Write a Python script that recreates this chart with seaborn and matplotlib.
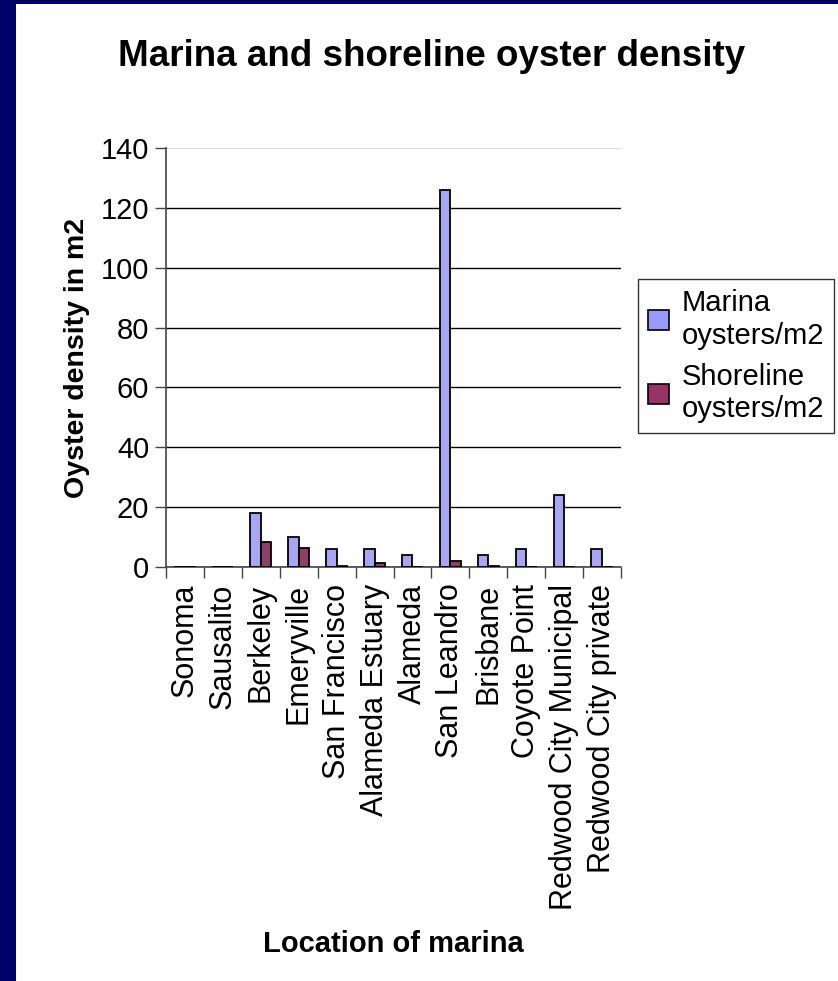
import numpy as np
import pandas as pd
import matplotlib
matplotlib.use("Agg")
import matplotlib.pyplot as plt
from matplotlib.patches import Rectangle, Patch
import seaborn as sns

# Oyster density (oysters per m2) by marina location
locations = [
    "Sonoma", "Sausalito", "Berkeley", "Emeryville", "San Francisco",
    "Alameda Estuary", "Alameda", "San Leandro", "Brisbane",
    "Coyote Point", "Redwood City Municipal", "Redwood City private",
]
marina_density = [0, 0, 18, 10, 6, 6, 4, 126, 4, 6, 24, 6]
shoreline_density = [0, 0, 8.5, 6.5, 0.5, 1.2, 0, 2, 0.4, 0, 0, 0]
series_names = ["Marina\noysters/m2", "Shoreline\noysters/m2"]
series_colors = ["#9999FF", "#993366"]
y_ticks = [0, 20, 40, 60, 80, 100, 120, 140]

df = pd.DataFrame({
    "location": locations * 2,
    "density": marina_density + shoreline_density,
    "series": [series_names[0]] * len(locations) + [series_names[1]] * len(locations),
})

sns.set_theme(style="white")
plt.rcParams["font.family"] = ["Liberation Sans", "DejaVu Sans"]
plt.rcParams["text.color"] = "black"
plt.rcParams["axes.labelcolor"] = "black"
plt.rcParams["xtick.color"] = "black"
plt.rcParams["ytick.color"] = "black"

fig = plt.figure(figsize=(8.38, 9.81), dpi=100)
fig.patch.set_facecolor("white")
W, H = 838, 981
ax = fig.add_axes([166 / W, 1 - 567 / H, (621 - 166) / W, (567 - 148) / H])

sns.barplot(
    data=df, x="location", y="density", hue="series", order=locations,
    hue_order=series_names, palette=series_colors, width=0.56,
    edgecolor="black", linewidth=1.3, ax=ax, legend=False, zorder=3,
)

ax.set_ylim(0, 140)
ax.set_xlim(-0.5, len(locations) - 0.5)
ax.set_yticks(y_ticks)
ax.set_yticklabels([str(v) for v in y_ticks], fontsize=21)
ax.yaxis.grid(True, color="black", linewidth=1.0, zorder=0)
ax.set_axisbelow(True)
# the top gridline is drawn faint
ax.get_ygridlines()[-1].set_color("#dddddd")

# category labels at centres, tick marks on category boundaries
ax.set_xticks(range(len(locations)))
ax.set_xticklabels(locations, rotation=90, fontsize=22)
ax.set_xticks(np.arange(-0.5, len(locations), 1), minor=True)
ax.tick_params(axis="x", which="major", length=0, pad=12)
ax.tick_params(axis="x", which="minor", length=8, width=1, color="#444444", bottom=True)
ax.tick_params(axis="y", length=8, width=1, color="#444444", left=True, pad=4)

for s in ["top", "right"]:
    ax.spines[s].set_visible(False)
for s in ["left", "bottom"]:
    ax.spines[s].set_color("#444444")
    ax.spines[s].set_linewidth(1.2)

ax.set_xlabel("Location of marina", fontsize=21, fontweight="bold", labelpad=15)
ax.set_ylabel("Oyster density in m2", fontsize=20.5, fontweight="bold", labelpad=8)

fig.text(432 / W, 1 - 57 / H, "Marina and shoreline oyster density",
         ha="center", va="center", fontsize=26.5, fontweight="bold")

handles = [Patch(facecolor=c, edgecolor="black", linewidth=1.2) for c in series_colors]
leg = fig.legend(
    handles, series_names, loc="upper left",
    bbox_to_anchor=(638 / W, 1 - 279 / H), bbox_transform=fig.transFigure,
    borderaxespad=0, fontsize=21, frameon=True, fancybox=False,
    handlelength=0.7, handleheight=0.7, handletextpad=0.45,
    borderpad=0.35, labelspacing=0.45,
)
leg.get_frame().set_edgecolor("black")
leg.get_frame().set_linewidth(1.0)

# navy slide frame on the left and top edges
fig.patches.append(Rectangle((0, 0), 16 / W, 1, transform=fig.transFigure,
                             facecolor="#000066", edgecolor="none", zorder=10))
fig.patches.append(Rectangle((0, 1 - 4 / H), 1, 4 / H, transform=fig.transFigure,
                             facecolor="#000066", edgecolor="none", zorder=10))

fig.savefig("out.png", dpi=100, facecolor="white")
